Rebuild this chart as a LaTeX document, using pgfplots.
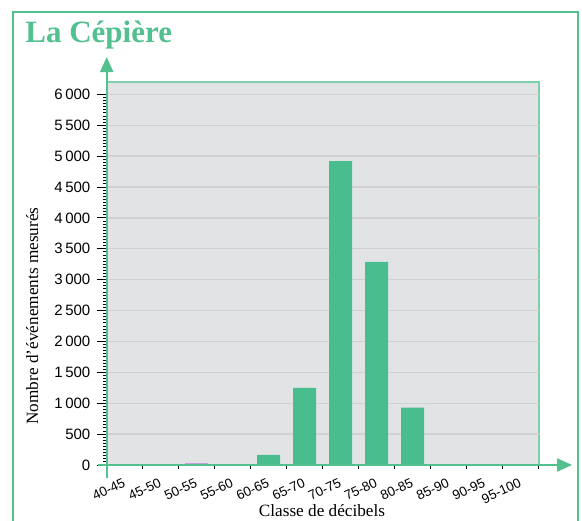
\documentclass[border=0pt]{standalone}
\usepackage{fontspec}
\setmainfont{Liberation Serif}
\newfontfamily\sansf{Liberation Sans}
\usepackage{pgfplots}
\pgfplotsset{compat=1.18}
\usetikzlibrary{arrows.meta}
\definecolor{bargreen}{RGB}{74,189,142}
\definecolor{framegreen}{RGB}{82,192,143}
\definecolor{lightgreen}{RGB}{125,208,172}
\definecolor{bggray}{RGB}{226,227,229}
\definecolor{gridgray}{RGB}{208,209,211}
\definecolor{lilac}{RGB}{196,160,212}
\begin{document}
\begin{tikzpicture}
\useasboundingbox (-53.35pt,-27.5pt) rectangle (237.65pt,232.5pt);
\draw[framegreen, line width=1.1pt] (-46.75pt,-40pt) -- (-46.75pt,226.5pt) -- (235.6pt,226.5pt) -- (235.6pt,-40pt);
\node[anchor=base west, text=framegreen, font=\fontsize{15.5}{18}\selectfont\bfseries, inner sep=0pt] at (-40.85pt,211.15pt) {La Cépière};
\begin{axis}[
  at={(0,0)}, anchor=south west,
  width=216pt, height=191.5pt, scale only axis,
  xmin=-0.5, xmax=11.5, ymin=0, ymax=6200,
  clip=false,
  axis line style={draw=none},
  axis background/.style={fill=bggray, draw=lightgreen, line width=0.8pt},
  xtick={0,...,11},
  xticklabels={40-45,45-50,50-55,55-60,60-65,65-70,70-75,75-80,80-85,85-90,90-95,95-100},
  minor xtick={-0.5,0.5,...,11.5},
  major x tick style={draw=none},
  xtick pos=bottom, ytick pos=left,
  ytick={0,500,...,6000},
  minor y tick num=9,
  tick align=outside,
  major tick length=5pt,
  minor tick length=1.8pt,
  tick style={black, line width=0.45pt},
  ymajorgrids,
  major grid style={gridgray, line width=0.7pt},
  /pgf/number format/.cd, 1000 sep={\,}, assume math mode=true,
  /pgfplots/.cd,
  yticklabel style={font=\sansf\fontsize{7.5}{8}\selectfont, anchor=east, inner sep=0pt, xshift=-3pt},
  xticklabel style={font=\sansf\fontsize{6.7}{7.5}\selectfont, rotate=25, anchor=north east, inner sep=0pt, yshift=-0.6pt, xshift=-1.5pt},
  xlabel={Classe de décibels},
  xlabel style={at={(axis description cs:0.4984,-0.1345)}, anchor=base, font=\fontsize{8.6}{10}\selectfont, inner sep=0pt},
  ylabel={Nombre d’événements mesurés},
  ylabel style={at={(axis description cs:-0.159,0.389)}, anchor=base, font=\fontsize{8.6}{10}\selectfont, inner sep=0pt},
]
\addplot[ybar, bar width=11.5pt, bar shift=0pt, fill=bargreen, draw=none] coordinates {
  (0,0) (1,0) (2,0) (3,0) (4,165) (5,1250) (6,4920) (7,3290) (8,930) (9,0) (10,0) (11,0)
};
\addplot[ybar, bar width=11.5pt, bar shift=0pt, fill=lilac, draw=none] coordinates {(2,25)};
\draw[framegreen, line width=1pt, -{Triangle[width=6.5pt,length=7.5pt]}] ([xshift=-4.3pt]rel axis cs:0,0) -- ([xshift=16.7pt]rel axis cs:1,0);
\draw[framegreen, line width=0.9pt, -{Triangle[width=6.5pt,length=7.5pt]}] ([yshift=-6.5pt]rel axis cs:0,0) -- ([yshift=12.5pt]rel axis cs:0,1);
\end{axis}
\end{tikzpicture}
\end{document}
